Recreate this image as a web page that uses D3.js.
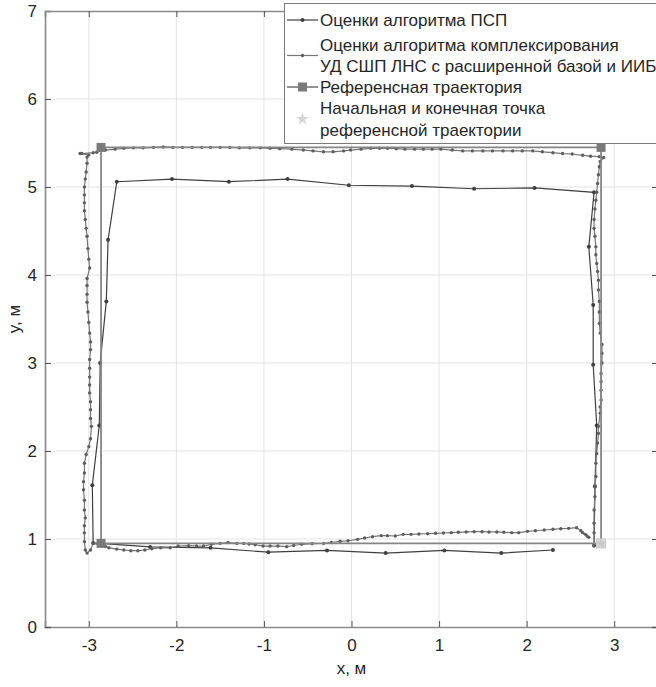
<!DOCTYPE html>
<html><head><meta charset="utf-8">
<script src="https://cdn.jsdelivr.net/npm/d3@7"></script>
<style>
html,body{margin:0;padding:0;background:#fff;}
svg{display:block;font-family:"Liberation Sans",Arial,sans-serif;}
</style></head>
<body><svg id="chart" width="656" height="687"></svg>
<script>
// ---- data ----
const xTicks = [-3,-2,-1,0,1,2,3];
const yTicks = [0,1,2,3,4,5,6,7];
const xLabel = "x, м";
const yLabel = "y, м";
const legendLabels = [
  ["Оценки алгоритма ПСП"],
  ["Оценки алгоритма комплексирования", "УД СШП ЛНС с расширенной базой и ИИБ"],
  ["Референсная траектория"],
  ["Начальная и конечная точка", "референсной траектории"]
];

// reference trajectory (start at bottom-right corner)
const refX = [2.85, -2.86, -2.86, 2.85, 2.85];
const refY = [0.95, 0.95, 5.45, 5.45, 0.95];
const startX = [2.85];
const startY = [0.95];

// PSP estimates
const pspX = [2.77, 2.78, 2.80, 2.76, 2.76, 2.71, 2.77, 2.09, 1.40, 0.69, -0.03, -0.73, -1.40, -2.05, -2.68, -2.78, -2.80, -2.87, -2.88, -2.96, -2.95, -2.30, -1.61, -0.95, -0.28, 0.39, 1.06, 1.71, 2.30];
const pspY = [0.93, 1.60, 2.29, 2.98, 3.66, 4.32, 4.94, 4.99, 4.98, 5.01, 5.02, 5.09, 5.06, 5.09, 5.06, 4.40, 3.70, 3.00, 2.29, 1.61, 0.955, 0.91, 0.90, 0.85, 0.87, 0.84, 0.87, 0.84, 0.875];

// complex (fusion) estimates
const compX = [
 2.77,2.77,2.77,2.77,2.78,2.78,2.79,2.79,2.80,2.81,2.82,2.82,2.84,2.84,2.85,2.85,2.85,2.85,2.86,2.86,2.86,2.84,2.83,2.83,2.83,2.82,2.82,2.81,2.80,2.79,2.79,2.78,2.77,2.77,2.78,2.79,2.80,2.81,2.82,2.83,2.84,2.88,
 2.83,2.73,2.64,2.52,2.41,2.30,2.18,2.07,1.95,1.84,1.73,1.61,1.50,1.38,1.27,1.15,1.02,0.92,0.82,0.72,0.61,0.51,0.41,0.32,0.22,0.11,-0.01,-0.09,-0.21,-0.32,-0.44,-0.55,-0.68,-0.82,-0.93,-1.04,-1.16,-1.28,-1.39,-1.50,-1.61,-1.71,-1.82,-1.93,-2.04,-2.15,-2.26,-2.38,-2.49,-2.60,-2.70,-2.81,-2.91,-2.95,-3.08,-3.10,-3.00,
 -3.02,-3.02,-3.03,-3.04,-3.05,-3.05,-3.05,-3.05,-3.04,-3.03,-3.02,-3.01,-3.00,-2.99,-3.02,-3.02,-3.02,-3.02,-3.01,-3.00,-2.99,-2.98,-2.98,-2.99,-2.99,-2.99,-2.99,-2.99,-2.98,-2.98,-2.98,-2.97,-2.98,-3.00,-3.03,-3.05,-3.05,-3.06,-3.06,-3.05,-3.05,-3.04,-3.05,-3.05,-3.05,-3.04,-3.02,-2.98,-2.95,
 -2.81,-2.77,-2.68,-2.60,-2.52,-2.44,-2.36,-2.28,-2.18,-2.07,-1.98,-1.86,-1.77,-1.69,-1.60,-1.50,-1.41,-1.31,-1.23,-1.17,-1.10,-1.01,-0.93,-0.84,-0.74,-0.66,-0.57,-0.45,-0.32,-0.23,-0.13,-0.04,0.07,0.15,0.24,0.34,0.41,0.50,0.59,0.68,0.77,0.87,0.96,1.05,1.14,1.22,1.31,1.40,1.49,1.57,1.66,1.74,1.83,1.91,2.01,2.10,2.20,2.30,2.39,2.48,2.57,2.62,2.64,2.67,2.69,2.71
];
const compY = [
 0.92,1.07,1.18,1.33,1.48,1.59,1.71,1.86,1.97,2.09,2.20,2.28,2.43,2.50,2.58,2.69,2.79,2.88,3.00,3.11,3.21,3.34,3.45,3.58,3.70,3.83,3.94,4.04,4.13,4.23,4.32,4.44,4.53,4.63,4.75,4.85,4.94,5.04,5.14,5.23,5.29,5.335,
 5.345,5.35,5.36,5.375,5.38,5.39,5.40,5.41,5.41,5.41,5.41,5.41,5.41,5.41,5.41,5.42,5.43,5.43,5.43,5.43,5.43,5.435,5.44,5.44,5.44,5.43,5.42,5.41,5.40,5.40,5.41,5.42,5.43,5.435,5.44,5.445,5.445,5.445,5.45,5.45,5.45,5.45,5.45,5.45,5.45,5.455,5.45,5.445,5.445,5.44,5.43,5.42,5.395,5.39,5.38,5.38,5.365,
 5.34,5.27,5.17,5.09,5.00,4.91,4.82,4.73,4.63,4.53,4.44,4.30,4.18,4.08,3.96,3.88,3.78,3.69,3.58,3.46,3.34,3.24,3.15,3.04,2.94,2.84,2.75,2.66,2.56,2.47,2.37,2.28,2.14,2.05,1.96,1.86,1.75,1.65,1.56,1.44,1.33,1.24,1.15,1.07,0.97,0.875,0.84,0.875,0.95,
 0.915,0.90,0.885,0.875,0.867,0.867,0.875,0.89,0.90,0.90,0.92,0.925,0.92,0.92,0.94,0.95,0.96,0.95,0.95,0.943,0.935,0.92,0.92,0.92,0.913,0.926,0.94,0.947,0.95,0.96,0.974,0.98,0.996,1.011,1.026,1.038,1.038,1.034,1.053,1.053,1.057,1.06,1.065,1.068,1.072,1.076,1.08,1.083,1.083,1.08,1.08,1.076,1.072,1.072,1.087,1.094,1.102,1.11,1.117,1.121,1.128,1.094,1.072,1.053,1.034,1.019
];

// ---- drawing ----
const svg = d3.select("#chart");
const L = 45, R = 658, T = 11, B = 627;
const FS = "17px";
const x = d3.scaleLinear().domain([-3.5, 3.5]).range([L, R]);
const y = d3.scaleLinear().domain([0, 7]).range([B, T]);

const cPSP = "#3f3f3f", cComp = "#767676", cRef = "#858585", cStar = "#d6d6d6";

// grid
const g = svg.append("g");
g.selectAll("line.gx").data(xTicks).join("line")
  .attr("x1", d => x(d)).attr("x2", d => x(d)).attr("y1", T).attr("y2", B)
  .attr("stroke", "#e3e3e3").attr("stroke-width", 1);
g.selectAll("line.gy").data(yTicks.filter(d => d > 0 && d < 7)).join("line")
  .attr("x1", L).attr("x2", R).attr("y1", d => y(d)).attr("y2", d => y(d))
  .attr("stroke", "#e3e3e3").attr("stroke-width", 1);

// axes
const fmt = d => String(d);
const axB = svg.append("g").attr("transform", `translate(0,${B})`)
  .call(d3.axisBottom(x).tickValues(xTicks).tickSize(-6).tickPadding(12).tickFormat(fmt));
const axL = svg.append("g").attr("transform", `translate(${L},0)`)
  .call(d3.axisLeft(y).tickValues(yTicks).tickSize(-6).tickPadding(8).tickFormat(fmt));
const axT = svg.append("g").attr("transform", `translate(0,${T})`)
  .call(d3.axisTop(x).tickValues(xTicks).tickSize(-6).tickFormat(""));
const axR = svg.append("g").attr("transform", `translate(${R},0)`)
  .call(d3.axisRight(y).tickValues(yTicks).tickSize(-6).tickFormat(""));
[axB, axL, axT, axR].forEach(a => {
  a.select(".domain").attr("stroke", "#8a8a8a").attr("stroke-width", 1.6);
  a.selectAll(".tick line").attr("stroke", "#555").attr("stroke-width", 1);
  a.selectAll(".tick text").attr("fill", "#262626").style("font-size", FS)
    .style("font-family", "'Liberation Sans', Arial, sans-serif");
});

svg.append("text").attr("x", x(0)).attr("y", 674).attr("text-anchor", "middle")
  .attr("fill", "#262626").style("font-size", FS).text(xLabel);
svg.append("text").attr("transform", `translate(20,${y(3.5)}) rotate(-90)`).attr("text-anchor", "middle")
  .attr("fill", "#262626").style("font-size", FS).text(yLabel);

const line = d3.line().x(d => x(d[0])).y(d => y(d[1]));
const psp = pspX.map((v, i) => [v, pspY[i]]);
const comp = compX.map((v, i) => [v, compY[i]]);
const ref = refX.map((v, i) => [v, refY[i]]);

// PSP
svg.append("path").attr("d", line(psp)).attr("fill", "none").attr("stroke", cPSP).attr("stroke-width", 1.2);
svg.selectAll("circle.psp").data(psp).join("circle").attr("class", "psp")
  .attr("cx", d => x(d[0])).attr("cy", d => y(d[1])).attr("r", 2).attr("fill", cPSP);

// complex
svg.append("path").attr("d", line(comp)).attr("fill", "none").attr("stroke", cComp).attr("stroke-width", 1.2);
svg.selectAll("circle.comp").data(comp).join("circle").attr("class", "comp")
  .attr("cx", d => x(d[0])).attr("cy", d => y(d[1])).attr("r", 1.7).attr("fill", "#5e5e5e");

// reference
svg.append("path").attr("d", line(ref)).attr("fill", "none").attr("stroke", cRef).attr("stroke-width", 1.8);
svg.selectAll("rect.ref").data(ref.slice(1, 4)).join("rect").attr("class", "ref")
  .attr("x", d => x(d[0]) - 4.5).attr("y", d => y(d[1]) - 4.5).attr("width", 9).attr("height", 9)
  .attr("fill", "#7a7a7a");

// start / end point
const starts = startX.map((v, i) => [v, startY[i]]);
svg.selectAll("rect.st").data(starts).join("rect")
  .attr("x", d => x(d[0]) - 4.5).attr("y", d => y(d[1]) - 4.5).attr("width", 9).attr("height", 9)
  .attr("fill", "#dcdcdc").attr("stroke", "#bdbdbd").attr("stroke-width", 0.8);
svg.selectAll("path.st").data(starts).join("path")
  .attr("transform", d => `translate(${x(d[0])},${y(d[1])})`)
  .attr("d", d3.symbol().type(d3.symbolStar).size(40)).attr("fill", "#c8c8c8");

// legend
const lg = svg.append("g");
lg.append("rect").attr("x", 284.5).attr("y", 3.5).attr("width", 400).attr("height", 140)
  .attr("fill", "#fff").attr("stroke", "#7a7a7a").attr("stroke-width", 1);
const textX = 320, iconX1 = 287, iconX2 = 318, iconXc = 302.5;
const rowsY = [[20], [45, 66], [87], [108, 130]];
const iconY = rowsY.map(r => d3.mean(r));
legendLabels.forEach((lines, i) => {
  lines.forEach((t, j) => {
    lg.append("text").attr("x", textX).attr("y", rowsY[i][j]).attr("dy", "0.35em")
      .attr("fill", "#262626").style("font-size", FS).text(t);
  });
});
lg.append("line").attr("x1", iconX1).attr("x2", iconX2).attr("y1", iconY[0]).attr("y2", iconY[0]).attr("stroke", cPSP).attr("stroke-width", 1.2);
lg.append("circle").attr("cx", iconXc).attr("cy", iconY[0]).attr("r", 2).attr("fill", cPSP);
lg.append("line").attr("x1", iconX1).attr("x2", iconX2).attr("y1", iconY[1]).attr("y2", iconY[1]).attr("stroke", cComp).attr("stroke-width", 1.2);
lg.append("circle").attr("cx", iconXc).attr("cy", iconY[1]).attr("r", 1.7).attr("fill", "#5e5e5e");
lg.append("line").attr("x1", iconX1).attr("x2", iconX2).attr("y1", iconY[2]).attr("y2", iconY[2]).attr("stroke", cRef).attr("stroke-width", 1.8);
lg.append("rect").attr("x", iconXc - 4.5).attr("y", iconY[2] - 4.5).attr("width", 9).attr("height", 9).attr("fill", "#7a7a7a");
lg.append("path").attr("transform", `translate(${iconXc},${iconY[3]})`)
  .attr("d", d3.symbol().type(d3.symbolStar).size(50)).attr("fill", cStar);
</script></body></html>
